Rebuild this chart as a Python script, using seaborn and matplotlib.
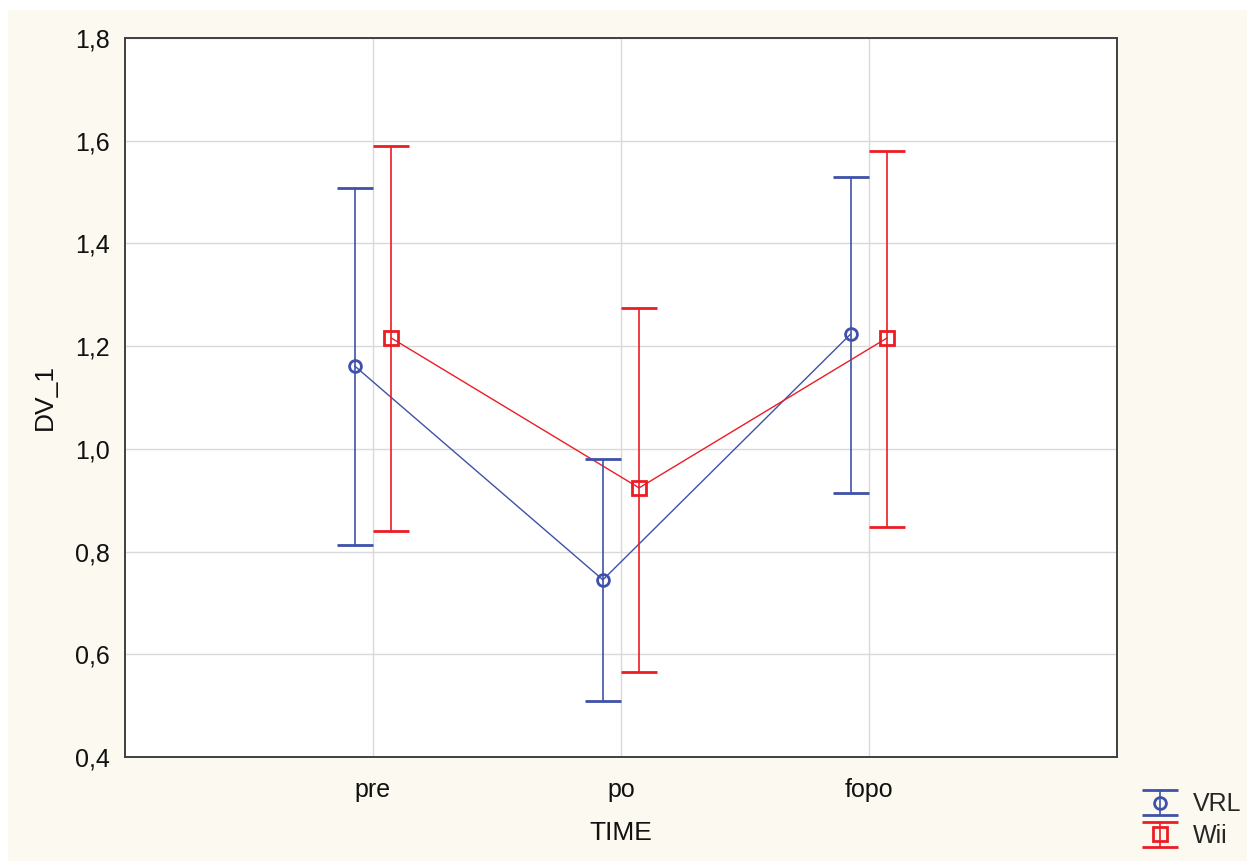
import numpy as np
import pandas as pd
import seaborn as sns
import matplotlib
matplotlib.use("Agg")
import matplotlib.pyplot as plt
from matplotlib.patches import Rectangle
from matplotlib.ticker import FuncFormatter

# ---- data ----
times = ["pre", "po", "fopo"]
groups = ["VRL", "Wii"]
vrl_mean = [1.161, 0.745, 1.224]
vrl_low = [0.813, 0.509, 0.914]
vrl_high = [1.508, 0.980, 1.529]
wii_mean = [1.216, 0.924, 1.216]
wii_low = [0.840, 0.566, 0.848]
wii_high = [1.590, 1.274, 1.580]
y_ticks = [0.4, 0.6, 0.8, 1.0, 1.2, 1.4, 1.6, 1.8]

sns.set_theme(style="white")
plt.rcParams["font.family"] = ["Liberation Sans", "DejaVu Sans"]

colors = {"VRL": "#3F51A8", "Wii": "#EC1C24"}
markers = {"VRL": "o", "Wii": "s"}
offsets = {"VRL": -0.073, "Wii": 0.073}

rows = []
for g, m, lo, hi in [("VRL", vrl_mean, vrl_low, vrl_high), ("Wii", wii_mean, wii_low, wii_high)]:
    for i, t in enumerate(times):
        rows.append(dict(group=g, time=t, idx=i, x=i + offsets[g], mean=m[i], lo=lo[i], hi=hi[i]))
df = pd.DataFrame(rows)

fig = plt.figure(figsize=(12.47, 8.61), dpi=100, facecolor="white")
fig.patches.append(Rectangle((8 / 1247, 0), 1, 1 - 10 / 861, transform=fig.transFigure,
                             facecolor="#FCF9F1", edgecolor="none", zorder=-10))
ax = fig.add_axes([125 / 1247, 1 - 757 / 861, 992 / 1247, 719 / 861])
ax.set_facecolor("white")

sns.lineplot(data=df, x="x", y="mean", hue="group", palette=colors, ax=ax,
             lw=1.0, legend=False, sort=False, zorder=3)

handles = []
for g in groups:
    d = df[df.group == g]
    h = ax.errorbar(d["x"], d["mean"], yerr=[d["mean"] - d["lo"], d["hi"] - d["mean"]],
                    fmt=markers[g], color=colors[g], mfc="none", mec=colors[g],
                    ms=8.5 if g == "VRL" else 9.5, mew=2.0, elinewidth=1.2,
                    capsize=13, capthick=0.9, zorder=4, label=g)
    handles.append(h)

ax.set_xlim(-1, 3)
ax.set_ylim(0.4, 1.8)
ax.set_xticks(range(len(times)))
ax.set_xticklabels(times)
ax.set_yticks(y_ticks)
ax.yaxis.set_major_formatter(FuncFormatter(lambda v, p: f"{v:.1f}".replace(".", ",")))
ax.grid(True, color="#D9D9D9", lw=1.0, zorder=0)
ax.set_axisbelow(True)
for s in ax.spines.values():
    s.set_color("#404040")
    s.set_linewidth(1.4)
ax.tick_params(axis="both", direction="in", length=5, width=1.2, color="#404040",
               labelsize=18, labelcolor="#111111")
ax.tick_params(axis="x", pad=15, length=0)
ax.tick_params(axis="y", pad=11)
ax.set_xlabel("TIME", fontsize=19, color="#111111", labelpad=14)
ax.set_ylabel("DV_1", fontsize=19, color="#111111", labelpad=13)

fig.legend(handles, groups, loc="center left", bbox_to_anchor=(1140 / 1247, 1 - 820 / 861),
           frameon=False, fontsize=18, handlelength=1.6, handletextpad=0.5,
           labelspacing=0.3, borderpad=0, borderaxespad=0)

fig.savefig("out.png", dpi=100, facecolor=fig.get_facecolor())
